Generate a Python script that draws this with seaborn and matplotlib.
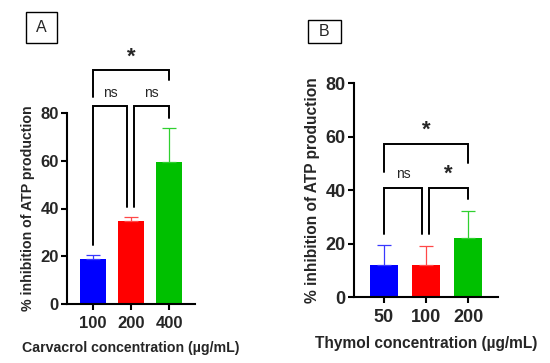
import numpy as np
import pandas as pd
import matplotlib
matplotlib.use("Agg")
import matplotlib.pyplot as plt
import matplotlib.patches as patches
import seaborn as sns

sns.set_theme(style="ticks")
plt.rcParams['font.family'] = ['Liberation Sans', 'DejaVu Sans']

# Datos
carv_conc = ['100', '200', '400']
carv_mean = [18.9, 34.8, 59.3]
carv_sd = [1.8, 1.7, 14.4]

thym_conc = ['50', '100', '200']
thym_mean = [12.0, 12.0, 22.0]
thym_sd = [7.3, 7.2, 10.2]

colores = ['#0000FF', '#FF0000', '#00C000']
colores_err = ['#3838FF', '#FF4848', '#30D030']

W, H = 550, 363
fig = plt.figure(figsize=(W / 100, H / 100), dpi=100)


def px_axes(l, r, t, b):
    return fig.add_axes([l / W, 1 - b / H, (r - l) / W, (b - t) / H])


def panel(ax, conc, mean, sd, xlabel, fs_tick, fs_lab, cap):
    df = pd.DataFrame({'conc': conc, 'mean': mean})
    sns.barplot(data=df, x='conc', y='mean', hue='conc', palette=colores,
                legend=False, width=0.68, saturation=1, ax=ax, errorbar=None,
                linewidth=0)
    for i in range(len(mean)):
        ax.errorbar(i, mean[i], yerr=[[0], [sd[i]]], fmt='none',
                    ecolor=colores_err[i], elinewidth=0.9, capsize=cap,
                    capthick=0.9, zorder=3)
    ax.set_ylim(0, 80)
    ax.set_yticks([0, 20, 40, 60, 80])
    sns.despine(ax=ax)
    for s in ['left', 'bottom']:
        ax.spines[s].set_linewidth(1.5)
        ax.spines[s].set_color('black')
    ax.tick_params(axis='both', width=1.5, length=4, color='black',
                   labelsize=fs_tick, pad=2)
    ax.tick_params(axis='x', pad=5)
    for lab in ax.get_xticklabels() + ax.get_yticklabels():
        lab.set_fontweight('bold')
    ax.set_xlabel(xlabel, fontsize=fs_lab, fontweight='bold', labelpad=7)
    ax.set_ylabel('% inhibition of ATP production', fontsize=fs_lab,
                  fontweight='bold', labelpad=4)


def bracket(ax, x1, x2, y, y1, y2, txt, bold):
    ax.plot([x1, x1, x2, x2], [y1, y, y, y2], color='black', lw=1.4,
            clip_on=False, solid_joinstyle='miter')
    if bold:
        ax.text((x1 + x2) / 2, y + 1.0, txt, ha='center', va='bottom',
                fontsize=16, fontweight='bold')
    else:
        ax.text((x1 + x2) / 2, y + 2.5, txt, ha='center', va='bottom',
                fontsize=10)


# Panel A
axA = px_axes(67, 195, 113, 304)
panel(axA, carv_conc, carv_mean, carv_sd, 'Carvacrol concentration (µg/mL)',
      12, 10.2, 4.7)
axA.set_xlim(-0.684, 2.684)
bracket(axA, 0, 0.89, 82.8, 24.7, 40.6, 'ns', False)
bracket(axA, 1.08, 2, 82.8, 40.6, 78.0, 'ns', False)
bracket(axA, 0, 2, 98.0, 86.7, 93.7, '*', True)

# Panel B
axB = px_axes(354, 498, 83, 297)
panel(axB, thym_conc, thym_mean, thym_sd, 'Thymol concentration (µg/mL)',
      13, 11.2, 5.0)
axB.set_xlim(-0.714, 2.714)
bracket(axB, 0, 0.905, 40.8, 23.6, 23.6, 'ns', False)
bracket(axB, 1.07, 2, 40.8, 23.6, 36.6, '*', True)
bracket(axB, 0, 2, 57.3, 46.8, 50.0, '*', True)

# Etiquetas de panel
for (l, t, w, h, letra) in [(26, 12, 31, 31, 'A'), (308, 20, 33, 23, 'B')]:
    fig.patches.append(patches.Rectangle((l / W, 1 - (t + h) / H), w / W, h / H,
                                         transform=fig.transFigure, fill=False,
                                         edgecolor='black', lw=1.0))
    fig.text((l + w / 2) / W, 1 - (t + h / 2) / H, letra, ha='center',
             va='center', fontsize=11.5)

plt.savefig('out.png', dpi=100)
plt.close()
